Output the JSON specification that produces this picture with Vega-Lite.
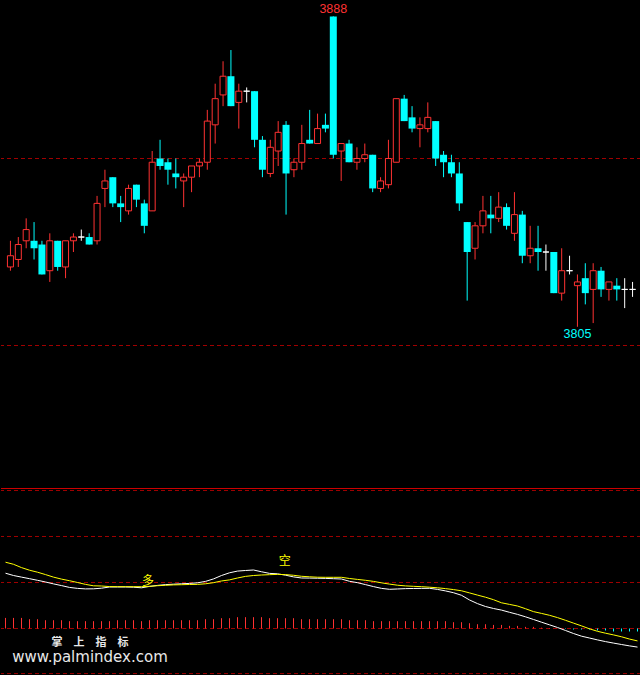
{
  "$schema": "https://vega.github.io/schema/vega-lite/v6.json",
  "background": "#000000",
  "padding": 0,
  "spacing": 0,
  "config": {"view": {"stroke": null}},
  "datasets": {
    "k": [
      {"i":0,"o":3821,"h":3828,"l":3820,"c":3824},
      {"i":1,"o":3823,"h":3829,"l":3821,"c":3827},
      {"i":2,"o":3828,"h":3834,"l":3826,"c":3831},
      {"i":3,"o":3828,"h":3833,"l":3823,"c":3826},
      {"i":4,"o":3827,"h":3828,"l":3819,"c":3819},
      {"i":5,"o":3820,"h":3830,"l":3817,"c":3828},
      {"i":6,"o":3828,"h":3828,"l":3820,"c":3821},
      {"i":7,"o":3821,"h":3828,"l":3818,"c":3828},
      {"i":8,"o":3828,"h":3830,"l":3825,"c":3829},
      {"i":9,"o":3829,"h":3831,"l":3828,"c":3829},
      {"i":10,"o":3829,"h":3830,"l":3827,"c":3827},
      {"i":11,"o":3828,"h":3840,"l":3827,"c":3838},
      {"i":12,"o":3842,"h":3847,"l":3837,"c":3844},
      {"i":13,"o":3845,"h":3845,"l":3837,"c":3838},
      {"i":14,"o":3838,"h":3840,"l":3833,"c":3837},
      {"i":15,"o":3836,"h":3843,"l":3835,"c":3842},
      {"i":16,"o":3843,"h":3843,"l":3837,"c":3839},
      {"i":17,"o":3838,"h":3839,"l":3830,"c":3832},
      {"i":18,"o":3836,"h":3852,"l":3836,"c":3849},
      {"i":19,"o":3850,"h":3855,"l":3847,"c":3848},
      {"i":20,"o":3849,"h":3850,"l":3843,"c":3847},
      {"i":21,"o":3846,"h":3850,"l":3842,"c":3845},
      {"i":22,"o":3844,"h":3846,"l":3837,"c":3845},
      {"i":23,"o":3845,"h":3848,"l":3841,"c":3848},
      {"i":24,"o":3848,"h":3850,"l":3845,"c":3849},
      {"i":25,"o":3849,"h":3863,"l":3847,"c":3860},
      {"i":26,"o":3859,"h":3870,"l":3854,"c":3866},
      {"i":27,"o":3867,"h":3876,"l":3864,"c":3872},
      {"i":28,"o":3872,"h":3879,"l":3864,"c":3864},
      {"i":29,"o":3865,"h":3870,"l":3858,"c":3868},
      {"i":30,"o":3868,"h":3869,"l":3865,"c":3868},
      {"i":31,"o":3868,"h":3868,"l":3853,"c":3855},
      {"i":32,"o":3855,"h":3856,"l":3845,"c":3847},
      {"i":33,"o":3846,"h":3855,"l":3845,"c":3853},
      {"i":34,"o":3852,"h":3860,"l":3848,"c":3857},
      {"i":35,"o":3859,"h":3860,"l":3835,"c":3846},
      {"i":36,"o":3847,"h":3850,"l":3845,"c":3849},
      {"i":37,"o":3849,"h":3859,"l":3847,"c":3854},
      {"i":38,"o":3855,"h":3863,"l":3854,"c":3854},
      {"i":39,"o":3854,"h":3862,"l":3854,"c":3858},
      {"i":40,"o":3859,"h":3862,"l":3857,"c":3858},
      {"i":41,"o":3888,"h":3888,"l":3850,"c":3851},
      {"i":42,"o":3852,"h":3854,"l":3844,"c":3854},
      {"i":43,"o":3854,"h":3855,"l":3849,"c":3849},
      {"i":44,"o":3849,"h":3853,"l":3847,"c":3850},
      {"i":45,"o":3850,"h":3854,"l":3849,"c":3851},
      {"i":46,"o":3851,"h":3851,"l":3841,"c":3842},
      {"i":47,"o":3842,"h":3845,"l":3841,"c":3844},
      {"i":48,"o":3843,"h":3855,"l":3842,"c":3850},
      {"i":49,"o":3849,"h":3866,"l":3849,"c":3866},
      {"i":50,"o":3866,"h":3867,"l":3860,"c":3860},
      {"i":51,"o":3861,"h":3864,"l":3857,"c":3858},
      {"i":52,"o":3858,"h":3861,"l":3853,"c":3859},
      {"i":53,"o":3858,"h":3865,"l":3857,"c":3861},
      {"i":54,"o":3860,"h":3860,"l":3848,"c":3850},
      {"i":55,"o":3851,"h":3852,"l":3845,"c":3849},
      {"i":56,"o":3849,"h":3851,"l":3845,"c":3846},
      {"i":57,"o":3846,"h":3849,"l":3836,"c":3838},
      {"i":58,"o":3833,"h":3833,"l":3812,"c":3825},
      {"i":59,"o":3826,"h":3833,"l":3823,"c":3832},
      {"i":60,"o":3832,"h":3840,"l":3830,"c":3836},
      {"i":61,"o":3835,"h":3840,"l":3830,"c":3834},
      {"i":62,"o":3834,"h":3841,"l":3833,"c":3837},
      {"i":63,"o":3837,"h":3838,"l":3831,"c":3832},
      {"i":64,"o":3830,"h":3841,"l":3828,"c":3835},
      {"i":65,"o":3835,"h":3836,"l":3822,"c":3824},
      {"i":66,"o":3824,"h":3832,"l":3822,"c":3826},
      {"i":67,"o":3826,"h":3832,"l":3820,"c":3825},
      {"i":68,"o":3825,"h":3827,"l":3820,"c":3825},
      {"i":69,"o":3825,"h":3825,"l":3814,"c":3814},
      {"i":70,"o":3814,"h":3826,"l":3812,"c":3820},
      {"i":71,"o":3820,"h":3824,"l":3819,"c":3820},
      {"i":72,"o":3816,"h":3819,"l":3805,"c":3817},
      {"i":73,"o":3818,"h":3822,"l":3811,"c":3814},
      {"i":74,"o":3815,"h":3822,"l":3806,"c":3820},
      {"i":75,"o":3820,"h":3821,"l":3813,"c":3815},
      {"i":76,"o":3815,"h":3817,"l":3812,"c":3817},
      {"i":77,"o":3816,"h":3818,"l":3812,"c":3815},
      {"i":78,"o":3815,"h":3818,"l":3810,"c":3815},
      {"i":79,"o":3815,"h":3817,"l":3813,"c":3815}
    ],
    "ind": [
      {"i":0,"w":12.02,"yl":14.41,"b":2.30},
      {"i":1,"w":11.52,"yl":13.96,"b":2.30},
      {"i":2,"w":11.17,"yl":13.24,"b":2.30},
      {"i":3,"w":10.83,"yl":12.67,"b":2.02},
      {"i":4,"w":10.48,"yl":12.24,"b":2.02},
      {"i":5,"w":10.11,"yl":11.72,"b":1.80},
      {"i":6,"w":9.70,"yl":11.17,"b":1.80},
      {"i":7,"w":9.33,"yl":10.74,"b":1.80},
      {"i":8,"w":8.93,"yl":10.39,"b":1.59},
      {"i":9,"w":8.72,"yl":10.00,"b":1.59},
      {"i":10,"w":8.61,"yl":9.59,"b":1.59},
      {"i":11,"w":8.63,"yl":9.28,"b":1.59},
      {"i":12,"w":8.76,"yl":9.24,"b":1.59},
      {"i":13,"w":9.02,"yl":9.11,"b":1.59},
      {"i":14,"w":9.02,"yl":9.09,"b":1.80},
      {"i":15,"w":9.02,"yl":9.09,"b":1.80},
      {"i":16,"w":8.98,"yl":9.09,"b":1.80},
      {"i":17,"w":8.85,"yl":9.09,"b":1.59},
      {"i":18,"w":9.15,"yl":9.17,"b":1.80},
      {"i":19,"w":9.37,"yl":9.30,"b":1.80},
      {"i":20,"w":9.54,"yl":9.39,"b":1.80},
      {"i":21,"w":9.63,"yl":9.48,"b":1.80},
      {"i":22,"w":9.72,"yl":9.52,"b":1.80},
      {"i":23,"w":9.80,"yl":9.57,"b":1.80},
      {"i":24,"w":9.93,"yl":9.59,"b":1.80},
      {"i":25,"w":10.24,"yl":9.72,"b":2.02},
      {"i":26,"w":10.78,"yl":9.96,"b":2.02},
      {"i":27,"w":11.52,"yl":10.33,"b":2.24},
      {"i":28,"w":12.11,"yl":10.57,"b":2.24},
      {"i":29,"w":12.48,"yl":10.98,"b":2.46},
      {"i":30,"w":12.61,"yl":11.33,"b":2.46},
      {"i":31,"w":12.72,"yl":11.52,"b":2.46},
      {"i":32,"w":12.33,"yl":11.63,"b":2.46},
      {"i":33,"w":11.98,"yl":11.70,"b":2.24},
      {"i":34,"w":11.89,"yl":11.76,"b":2.24},
      {"i":35,"w":11.59,"yl":11.72,"b":2.24},
      {"i":36,"w":11.22,"yl":11.57,"b":2.24},
      {"i":37,"w":10.98,"yl":11.35,"b":2.02},
      {"i":38,"w":10.96,"yl":11.24,"b":2.02},
      {"i":39,"w":10.93,"yl":11.15,"b":2.02},
      {"i":40,"w":10.89,"yl":11.13,"b":2.02},
      {"i":41,"w":10.83,"yl":11.13,"b":2.02},
      {"i":42,"w":10.76,"yl":11.13,"b":2.02},
      {"i":43,"w":10.26,"yl":10.87,"b":1.80},
      {"i":44,"w":9.96,"yl":10.67,"b":1.80},
      {"i":45,"w":9.54,"yl":10.48,"b":1.80},
      {"i":46,"w":9.11,"yl":10.24,"b":1.59},
      {"i":47,"w":8.72,"yl":9.93,"b":1.59},
      {"i":48,"w":8.52,"yl":9.65,"b":1.59},
      {"i":49,"w":8.59,"yl":9.41,"b":1.59},
      {"i":50,"w":8.67,"yl":9.26,"b":1.59},
      {"i":51,"w":8.70,"yl":9.17,"b":1.59},
      {"i":52,"w":8.72,"yl":9.09,"b":1.59},
      {"i":53,"w":8.74,"yl":8.98,"b":1.59},
      {"i":54,"w":8.50,"yl":8.85,"b":1.59},
      {"i":55,"w":8.17,"yl":8.67,"b":1.59},
      {"i":56,"w":7.78,"yl":8.46,"b":1.37},
      {"i":57,"w":7.22,"yl":8.20,"b":1.37},
      {"i":58,"w":6.20,"yl":7.74,"b":1.15},
      {"i":59,"w":5.41,"yl":7.26,"b":0.93},
      {"i":60,"w":4.78,"yl":6.80,"b":0.93},
      {"i":61,"w":4.35,"yl":6.26,"b":0.78},
      {"i":62,"w":4.00,"yl":5.59,"b":0.78},
      {"i":63,"w":3.52,"yl":5.24,"b":0.57},
      {"i":64,"w":3.07,"yl":4.89,"b":0.57},
      {"i":65,"w":2.54,"yl":4.30,"b":0.35},
      {"i":66,"w":1.96,"yl":3.67,"b":0.35},
      {"i":67,"w":1.37,"yl":3.28,"b":0.17},
      {"i":68,"w":0.80,"yl":2.87,"b":0.10},
      {"i":69,"w":0.22,"yl":2.37,"b":0.05},
      {"i":70,"w":-0.43,"yl":1.78,"b":-0.10},
      {"i":71,"w":-1.09,"yl":1.17,"b":-0.22},
      {"i":72,"w":-1.67,"yl":0.57,"b":-0.22},
      {"i":73,"w":-2.07,"yl":-0.07,"b":-0.22},
      {"i":74,"w":-2.48,"yl":-0.61,"b":-0.43},
      {"i":75,"w":-2.85,"yl":-1.02,"b":-0.43},
      {"i":76,"w":-3.17,"yl":-1.39,"b":-0.65},
      {"i":77,"w":-3.48,"yl":-1.80,"b":-0.65},
      {"i":78,"w":-3.78,"yl":-2.30,"b":-0.65},
      {"i":79,"w":-4.04,"yl":-2.70,"b":-0.65}
    ]
  },
  "vconcat": [
    {
      "width": 640,
      "height": 488,
      "layer": [
        {
          "data": {"values": [{"p": 3850}, {"p": 3800}]},
          "mark": {"type": "rule", "color": "#a00000", "strokeWidth": 1, "strokeDash": [4, 3]},
          "encoding": {
            "y": {"field": "p", "type": "quantitative", "scale": {"domain": [3761.9, 3892.38], "nice": false, "zero": false}, "axis": null}
          }
        },
        {
          "data": {"name": "k"},
          "mark": {"type": "rule", "strokeWidth": 1},
          "encoding": {
            "x": {"field": "i", "type": "quantitative", "scale": {"domain": [-0.5625, 79.4375], "nice": false, "zero": false}, "axis": null},
            "y": {"field": "l", "type": "quantitative", "scale": {"domain": [3761.9, 3892.38], "nice": false, "zero": false}, "axis": null},
            "y2": {"field": "h"},
            "color": {"condition": [{"test": "datum.c > datum.o", "value": "#ff3232"}, {"test": "datum.c < datum.o", "value": "#00ffff"}], "value": "#ffffff"}
          }
        },
        {
          "data": {"name": "k"},
          "transform": [{"filter": "datum.c < datum.o"}],
          "mark": {"type": "bar", "size": 7, "color": "#00ffff"},
          "encoding": {
            "x": {"field": "i", "type": "quantitative", "scale": {"domain": [-0.5625, 79.4375], "nice": false, "zero": false}, "axis": null},
            "y": {"field": "o", "type": "quantitative", "scale": {"domain": [3761.9, 3892.38], "nice": false, "zero": false}, "axis": null},
            "y2": {"field": "c"}
          }
        },
        {
          "data": {"name": "k"},
          "transform": [{"filter": "datum.c >= datum.o"}],
          "mark": {"type": "bar", "size": 6, "fill": "#000000", "strokeWidth": 1},
          "encoding": {
            "x": {"field": "i", "type": "quantitative", "scale": {"domain": [-0.5625, 79.4375], "nice": false, "zero": false}, "axis": null},
            "y": {"field": "o", "type": "quantitative", "scale": {"domain": [3761.9, 3892.38], "nice": false, "zero": false}, "axis": null},
            "y2": {"field": "c"},
            "stroke": {"condition": {"test": "datum.c > datum.o", "value": "#ff3232"}, "value": "#ffffff"}
          }
        },
        {
          "data": {"values": [{"i": 41, "p": 3888, "t": "3888"}]},
          "mark": {"type": "text", "color": "#ff3232", "font": "Liberation Sans", "fontSize": 12.5, "baseline": "alphabetic", "align": "center", "dy": -3},
          "encoding": {
            "x": {"field": "i", "type": "quantitative", "scale": {"domain": [-0.5625, 79.4375], "nice": false, "zero": false}, "axis": null},
            "y": {"field": "p", "type": "quantitative", "scale": {"domain": [3761.9, 3892.38], "nice": false, "zero": false}, "axis": null},
            "text": {"field": "t"}
          }
        },
        {
          "data": {"values": [{"i": 72, "p": 3805, "t": "3805"}]},
          "mark": {"type": "text", "color": "#00ffff", "font": "Liberation Sans", "fontSize": 12.5, "baseline": "top", "align": "center", "dy": 1},
          "encoding": {
            "x": {"field": "i", "type": "quantitative", "scale": {"domain": [-0.5625, 79.4375], "nice": false, "zero": false}, "axis": null},
            "y": {"field": "p", "type": "quantitative", "scale": {"domain": [3761.9, 3892.38], "nice": false, "zero": false}, "axis": null},
            "text": {"field": "t"}
          }
        }
      ]
    },
    {
      "width": 640,
      "height": 187,
      "layer": [
        {
          "data": {"values": [{"v": 30}, {"v": 20}, {"v": 10}, {"v": 0}, {"v": -9.8}]},
          "mark": {"type": "rule", "color": "#a00000", "strokeWidth": 1, "strokeDash": [4, 3]},
          "encoding": {
            "y": {"field": "v", "type": "quantitative", "scale": {"domain": [-10.109, 30.543], "nice": false, "zero": false}, "axis": null}
          }
        },
        {
          "data": {"values": [{"v": 30.43}]},
          "mark": {"type": "rule", "color": "#d00000", "strokeWidth": 1},
          "encoding": {
            "y": {"field": "v", "type": "quantitative", "scale": {"domain": [-10.109, 30.543], "nice": false, "zero": false}, "axis": null}
          }
        },
        {
          "data": {"name": "ind"},
          "mark": {"type": "rule", "strokeWidth": 1},
          "encoding": {
            "x": {"field": "i", "type": "quantitative", "scale": {"domain": [-0.5625, 79.4375], "nice": false, "zero": false}, "axis": null},
            "y": {"field": "b", "type": "quantitative", "scale": {"domain": [-10.109, 30.543], "nice": false, "zero": false}, "axis": null},
            "y2": {"datum": 0},
            "color": {"condition": {"test": "datum.b > 0", "value": "#ff3232"}, "value": "#00ffff"}
          }
        },
        {
          "data": {"name": "ind"},
          "mark": {"type": "line", "color": "#ffffff", "strokeWidth": 1},
          "encoding": {
            "x": {"field": "i", "type": "quantitative", "scale": {"domain": [-0.5625, 79.4375], "nice": false, "zero": false}, "axis": null},
            "y": {"field": "w", "type": "quantitative", "scale": {"domain": [-10.109, 30.543], "nice": false, "zero": false}, "axis": null}
          }
        },
        {
          "data": {"name": "ind"},
          "mark": {"type": "line", "color": "#ffff00", "strokeWidth": 1},
          "encoding": {
            "x": {"field": "i", "type": "quantitative", "scale": {"domain": [-0.5625, 79.4375], "nice": false, "zero": false}, "axis": null},
            "y": {"field": "yl", "type": "quantitative", "scale": {"domain": [-10.109, 30.543], "nice": false, "zero": false}, "axis": null}
          }
        },
        {
          "data": {"values": [{"i": 17.8, "v": 10.3, "t": "多"}, {"i": 34.9, "v": 14.7, "t": "空"}]},
          "mark": {"type": "text", "color": "#ffff00", "font": "Noto Sans CJK SC", "fontSize": 12, "baseline": "middle", "align": "center"},
          "encoding": {
            "x": {"field": "i", "type": "quantitative", "scale": {"domain": [-0.5625, 79.4375], "nice": false, "zero": false}, "axis": null},
            "y": {"field": "v", "type": "quantitative", "scale": {"domain": [-10.109, 30.543], "nice": false, "zero": false}, "axis": null},
            "text": {"field": "t"}
          }
        },
        {
          "data": {"values": [{"i": 10.56, "v": -3.15, "t": "掌　上　指　标"}]},
          "mark": {"type": "text", "color": "#e8e8e8", "font": "Noto Sans CJK SC", "fontSize": 11, "fontWeight": "bold", "baseline": "middle", "align": "center"},
          "encoding": {
            "x": {"field": "i", "type": "quantitative", "scale": {"domain": [-0.5625, 79.4375], "nice": false, "zero": false}, "axis": null},
            "y": {"field": "v", "type": "quantitative", "scale": {"domain": [-10.109, 30.543], "nice": false, "zero": false}, "axis": null},
            "text": {"field": "t"}
          }
        },
        {
          "data": {"values": [{"i": 10.56, "v": -6.3, "t": "www.palmindex.com"}]},
          "mark": {"type": "text", "color": "#e8e8e8", "font": "DejaVu Sans", "fontSize": 15, "baseline": "middle", "align": "center"},
          "encoding": {
            "x": {"field": "i", "type": "quantitative", "scale": {"domain": [-0.5625, 79.4375], "nice": false, "zero": false}, "axis": null},
            "y": {"field": "v", "type": "quantitative", "scale": {"domain": [-10.109, 30.543], "nice": false, "zero": false}, "axis": null},
            "text": {"field": "t"}
          }
        }
      ]
    }
  ]
}
